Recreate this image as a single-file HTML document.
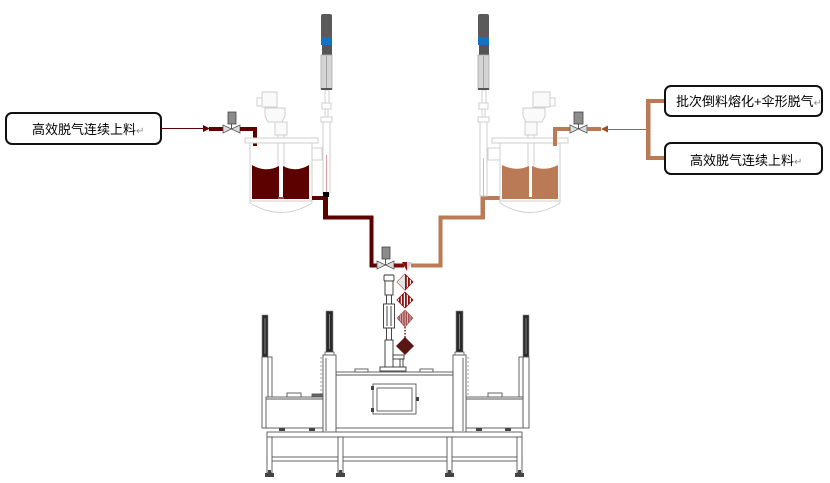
<!DOCTYPE html>
<html><head><meta charset="utf-8">
<style>
html,body{margin:0;padding:0;background:#fff;}
svg{display:block;}
text{font-family:"Liberation Sans","Noto Sans CJK SC",sans-serif;}
</style></head>
<body>
<svg width="830" height="483" viewBox="0 0 830 483" xmlns="http://www.w3.org/2000/svg">
<defs>
  <pattern id="stripeR" width="3" height="4" patternUnits="userSpaceOnUse">
    <rect width="3" height="4" fill="#fff"/>
    <rect width="1.8" height="4" fill="#8a1010"/>
  </pattern>
  <pattern id="stripeP" width="2.4" height="4" patternUnits="userSpaceOnUse">
    <rect width="2.4" height="4" fill="#e8c8c8"/>
    <rect width="1.6" height="4" fill="#a05050"/>
  </pattern>
</defs>

<!-- ============ LEFT LABEL ============ -->
<rect x="6" y="113" width="155" height="31" rx="6" ry="6" fill="#fff" stroke="#111" stroke-width="2"/>
<text x="32" y="134" font-size="13" fill="#000">高效脱气连续上料<tspan fill="#888" font-size="10">↵</tspan></text>
<line x1="161" y1="128.5" x2="205" y2="128.5" stroke="#5c0000" stroke-width="1"/>
<polygon points="203,125 210,128.5 203,132" fill="#5c0000"/>
<rect x="209" y="127" width="15" height="4" fill="#5c0000"/>
<!-- left valve -->
<line x1="231.5" y1="123" x2="231.5" y2="129" stroke="#555" stroke-width="1"/>
<rect x="228" y="112" width="8" height="12" fill="#8c8c8c" stroke="#444" stroke-width="0.8"/>
<polygon points="223,125 223,133 231.5,129" fill="#ddd" stroke="#555" stroke-width="0.8"/>
<polygon points="240,125 240,133 231.5,129" fill="#ddd" stroke="#555" stroke-width="0.8"/>
<rect x="240" y="127" width="17" height="4" fill="#5c0000"/>
<rect x="253" y="127" width="4" height="19" fill="#5c0000"/>

<!-- ============ LEFT TANK ============ -->
<g fill="none" stroke="#cfcfcf" stroke-width="1">
  <rect x="262" y="92" width="15" height="15" fill="#fafafa"/>
  <rect x="257" y="98" width="5" height="8"/>
  <path d="M265,108 h20 v8 l-3,6 h-14 l-3,-6 z" fill="#fafafa"/>
  <rect x="275" y="122" width="12" height="13" fill="#fafafa"/>
  <rect x="278" y="135" width="6" height="63"/>
  <rect x="245" y="138" width="73" height="5" fill="#fff"/>
  <line x1="250" y1="143" x2="250" y2="203"/>
  <line x1="312" y1="143" x2="312" y2="203"/>
  <path d="M250,203 Q281,222 312,203"/>
  <line x1="250" y1="201" x2="312" y2="201"/>
  <rect x="312" y="148" width="10" height="12"/>
</g>
<path d="M252,165 Q266,173 279,166 L279,198 L252,198 Z" fill="#5c0000"/>
<path d="M283,166 Q296,173 309,165 L309,198 L283,198 Z" fill="#5c0000"/>
<rect x="252" y="197" width="57" height="2" fill="#5c0000"/>
<rect x="278" y="197" width="6" height="2" fill="#a04040"/>

<!-- left column under motor -->
<g fill="#fff" stroke="#cfcfcf" stroke-width="1">
  <rect x="325" y="90" width="4" height="13"/>
  <rect x="322" y="103" width="9" height="6"/>
  <rect x="325" y="109" width="3" height="9"/>
  <rect x="321" y="117" width="11" height="5"/>
  <rect x="323" y="122" width="7" height="72"/>
</g>
<line x1="326.5" y1="155" x2="326.5" y2="192" stroke="#d8a0a0" stroke-width="1"/>
<!-- left top motor -->
<g>
  <rect x="321" y="14" width="11" height="24" rx="2" fill="#5a5a5a"/>
  <rect x="321" y="37" width="11" height="8" fill="#1a6ec4"/>
  <rect x="322" y="45" width="10" height="10" fill="#555"/>
  <rect x="321" y="55" width="11" height="34" fill="#d4d4d4" stroke="#aaa" stroke-width="0.8"/>
  <line x1="326.5" y1="56" x2="326.5" y2="88" stroke="#999" stroke-width="0.8"/>
  <rect x="321" y="88" width="11" height="2" fill="#555"/>
</g>

<!-- left outlet pipe -->
<rect x="312" y="196" width="14" height="4" fill="#5c0000"/>
<rect x="323" y="192" width="5" height="27" fill="#5c0000"/>
<rect x="323" y="192" width="6" height="5" fill="#000"/>
<rect x="323" y="215.5" width="50" height="4" fill="#5c0000"/>
<rect x="369.5" y="215.5" width="4" height="52" fill="#5c0000"/>
<rect x="369.5" y="263.5" width="8" height="4" fill="#5c0000"/>

<!-- ============ CENTER VALVE & MIXER ============ -->
<line x1="385.5" y1="258" x2="385.5" y2="265" stroke="#555" stroke-width="1"/>
<rect x="382" y="247" width="8" height="12" fill="#8c8c8c" stroke="#444" stroke-width="0.8"/>
<polygon points="377,261 377,269 385.5,265" fill="#ddd" stroke="#555" stroke-width="0.8"/>
<polygon points="394,261 394,269 385.5,265" fill="#ddd" stroke="#555" stroke-width="0.8"/>
<rect x="394" y="263.5" width="10" height="4" fill="#7a0a0a"/>
<polygon points="402,262 412,262 407,271" fill="#cfcfcf"/>
<polygon points="402,262 407,262 407,271" fill="#8a1010"/>
<!-- orange pipe to right tank -->
<rect x="411" y="263.5" width="31" height="4" fill="#ba7a55"/>
<rect x="438.5" y="215.5" width="4" height="52" fill="#ba7a55"/>
<rect x="438.5" y="215.5" width="46" height="4" fill="#ba7a55"/>
<rect x="480.5" y="196" width="4.5" height="23.5" fill="#ba7a55"/>
<rect x="480.5" y="196" width="20" height="4" fill="#ba7a55"/>

<!-- mixer diamonds -->
<polygon points="405,274 413,282 405,290 397,282" fill="url(#stripeR)" stroke="#8a1010" stroke-width="0.8"/>
<polygon points="405,274 405,290 397,282" fill="#e4e4e4"/>
<polygon points="405,292 413,300 405,308 397,300" fill="url(#stripeR)" stroke="#8a1010" stroke-width="0.8"/>
<polygon points="405,310 413,318 405,327 397,318" fill="url(#stripeP)" stroke="#a05050" stroke-width="0.6"/>
<line x1="405" y1="327" x2="405" y2="338" stroke="#8a2020" stroke-width="1.5" stroke-dasharray="1.5,1.5"/>
<polygon points="405,337 414,346 405,355 396,346" fill="#5a1515"/>

<!-- dispensing gun -->
<g fill="#fff" stroke="#333" stroke-width="0.9">
  <rect x="384" y="275" width="10" height="6" rx="1"/>
  <rect x="385" y="281" width="8" height="14"/>
  <rect x="386.5" y="295" width="5" height="9"/>
  <rect x="383.5" y="304" width="11" height="24"/>
  <line x1="387" y1="306" x2="387" y2="326"/>
  <line x1="391" y1="306" x2="391" y2="326"/>
  <rect x="386.5" y="328" width="5" height="12"/>
  <rect x="385" y="340" width="8" height="28"/>
  <rect x="393" y="355" width="11" height="4"/>
  <rect x="400" y="359" width="3" height="10"/>
  <rect x="380" y="367" width="26" height="4"/>
</g>

<!-- ============ RIGHT TANK ============ -->
<g fill="none" stroke="#cfcfcf" stroke-width="1">
  <rect x="533" y="92" width="17" height="15" fill="#fafafa"/>
  <rect x="550" y="98" width="5" height="8"/>
  <path d="M523,108 h22 v8 l-3,6 h-16 l-3,-6 z" fill="#fafafa"/>
  <rect x="525" y="122" width="12" height="13" fill="#fafafa"/>
  <rect x="528" y="135" width="6" height="63"/>
  <rect x="492" y="138" width="76" height="5" fill="#fff"/>
  <line x1="500" y1="143" x2="500" y2="203"/>
  <line x1="560" y1="143" x2="560" y2="203"/>
  <path d="M500,203 Q530,222 560,203"/>
  <line x1="500" y1="201" x2="560" y2="201"/>
  <rect x="488" y="148" width="12" height="12"/>
</g>
<path d="M502,165 Q516,172 529,166 L529,198 L502,198 Z" fill="#ba7a55"/>
<path d="M532,166 Q545,172 558,165 L558,198 L532,198 Z" fill="#ba7a55"/>
<rect x="502" y="197" width="56" height="2" fill="#ba7a55"/>

<!-- right column -->
<g fill="#fff" stroke="#cfcfcf" stroke-width="1">
  <rect x="482" y="90" width="4" height="13"/>
  <rect x="479" y="103" width="9" height="6"/>
  <rect x="482" y="109" width="3" height="9"/>
  <rect x="478" y="117" width="11" height="5"/>
  <rect x="480" y="122" width="7" height="74"/>
</g>
<line x1="483.5" y1="158" x2="483.5" y2="196" stroke="#e0b8a0" stroke-width="1"/>
<!-- right top motor -->
<g>
  <rect x="478" y="14" width="11" height="24" rx="2" fill="#5a5a5a"/>
  <rect x="478" y="37" width="11" height="8" fill="#1a6ec4"/>
  <rect x="479" y="45" width="10" height="10" fill="#555"/>
  <rect x="478" y="55" width="11" height="34" fill="#d4d4d4" stroke="#aaa" stroke-width="0.8"/>
  <line x1="483.5" y1="56" x2="483.5" y2="88" stroke="#999" stroke-width="0.8"/>
  <rect x="478" y="88" width="11" height="2" fill="#555"/>
</g>

<!-- right inlet -->
<rect x="553" y="127" width="4" height="19" fill="#ba7a55"/>
<rect x="553" y="127" width="18" height="4" fill="#ba7a55"/>
<line x1="578.5" y1="123" x2="578.5" y2="129" stroke="#555" stroke-width="1"/>
<rect x="574" y="112" width="9" height="12" fill="#8c8c8c" stroke="#444" stroke-width="0.8"/>
<polygon points="570,125 570,133 578.5,129" fill="#ddd" stroke="#555" stroke-width="0.8"/>
<polygon points="587,125 587,133 578.5,129" fill="#ddd" stroke="#555" stroke-width="0.8"/>
<rect x="587" y="127" width="14" height="4" fill="#ba7a55"/>
<polygon points="608,125.5 601,129 608,132.5" fill="#a0521e"/>
<line x1="607" y1="129.5" x2="649" y2="129.5" stroke="#a0623a" stroke-width="1"/>
<rect x="646" y="99" width="4.5" height="61" fill="#ba7a55"/>
<rect x="646" y="99" width="19" height="4" fill="#ba7a55"/>
<rect x="646" y="156" width="19" height="4" fill="#ba7a55"/>

<!-- right labels -->
<rect x="665" y="86" width="157" height="30" rx="6" ry="6" fill="#fff" stroke="#111" stroke-width="2"/>
<text x="676" y="106" font-size="13" fill="#000">批次倒料熔化+伞形脱气<tspan fill="#888" font-size="10">↵</tspan></text>
<rect x="665" y="143" width="157" height="31" rx="6" ry="6" fill="#fff" stroke="#111" stroke-width="2"/>
<text x="690" y="165" font-size="13" fill="#000">高效脱气连续上料<tspan fill="#888" font-size="10">↵</tspan></text>

<!-- ============ MACHINE ============ -->
<!-- posts -->
<g>
  <rect x="262" y="315" width="6" height="42" fill="#2a2a2a" stroke="#888" stroke-width="0.6"/>
  <line x1="265" y1="318" x2="265" y2="354" stroke="#bbb" stroke-width="0.6"/>
  <rect x="326" y="311" width="7" height="41" fill="#2a2a2a" stroke="#888" stroke-width="0.6"/>
  <line x1="329.5" y1="314" x2="329.5" y2="349" stroke="#bbb" stroke-width="0.6"/>
  <rect x="456" y="311" width="7" height="41" fill="#2a2a2a" stroke="#888" stroke-width="0.6"/>
  <line x1="459.5" y1="314" x2="459.5" y2="349" stroke="#bbb" stroke-width="0.6"/>
  <rect x="523" y="315" width="6" height="42" fill="#2a2a2a" stroke="#888" stroke-width="0.6"/>
  <line x1="526" y1="318" x2="526" y2="354" stroke="#bbb" stroke-width="0.6"/>
  <rect x="325" y="352" width="9" height="4" fill="#fff" stroke="#444" stroke-width="0.7"/>
  <rect x="455" y="352" width="9" height="4" fill="#fff" stroke="#444" stroke-width="0.7"/>
</g>
<g fill="#fff" stroke="#555" stroke-width="0.9">
  <!-- left side table -->
  <rect x="262" y="357" width="6" height="71"/>
  <rect x="268" y="357" width="4" height="40"/>
  <rect x="266" y="397" width="57" height="31"/>
  <line x1="266" y1="399" x2="323" y2="399"/>
  <line x1="321" y1="357" x2="321" y2="397" stroke="#999" stroke-dasharray="2,2"/>
  <rect x="287" y="393" width="14" height="4"/>
  <rect x="312" y="394" width="10" height="3" fill="#666"/>
  <!-- right side table -->
  <rect x="523" y="357" width="6" height="71"/>
  <rect x="519" y="357" width="4" height="40"/>
  <rect x="466" y="397" width="57" height="31"/>
  <line x1="466" y1="399" x2="523" y2="399"/>
  <line x1="468" y1="357" x2="468" y2="397" stroke="#999" stroke-dasharray="2,2"/>
  <rect x="488" y="393" width="14" height="4"/>
  <!-- center box -->
  <rect x="336" y="372" width="117" height="56"/>
  <line x1="336" y1="375" x2="453" y2="375"/>
  <rect x="355" y="369" width="13" height="3"/>
  <rect x="420" y="369" width="13" height="3"/>
  <rect x="373" y="384" width="43" height="30"/>
  <rect x="377" y="388" width="35" height="23"/>
  <!-- inner columns -->
  <rect x="323" y="355" width="13" height="78"/>
  <line x1="326" y1="358" x2="326" y2="431"/>
  <rect x="453" y="355" width="13" height="78"/>
  <line x1="463" y1="358" x2="463" y2="431"/>
  <!-- base -->
  <rect x="267" y="432" width="255" height="5"/>
  <rect x="267" y="457" width="255" height="4"/>
  <rect x="267" y="437" width="5" height="36"/>
  <rect x="338" y="437" width="5" height="36"/>
  <rect x="447" y="437" width="5" height="36"/>
  <rect x="517" y="437" width="5" height="36"/>
</g>
<g fill="#444">
  <rect x="371" y="386" width="3" height="4"/>
  <rect x="371" y="408" width="3" height="4"/>
  <rect x="416" y="397" width="3" height="4"/>
  <rect x="265" y="473" width="9" height="4"/>
  <rect x="336" y="473" width="9" height="4"/>
  <rect x="445" y="473" width="9" height="4"/>
  <rect x="515" y="473" width="9" height="4"/>
  <rect x="268" y="470" width="3" height="3"/>
  <rect x="339" y="470" width="3" height="3"/>
  <rect x="448" y="470" width="3" height="3"/>
  <rect x="518" y="470" width="3" height="3"/>
  <rect x="279" y="428" width="6" height="3"/>
  <rect x="309" y="428" width="6" height="3"/>
  <rect x="476" y="428" width="6" height="3"/>
  <rect x="505" y="428" width="6" height="3"/>
</g>
</svg>
</body></html>
